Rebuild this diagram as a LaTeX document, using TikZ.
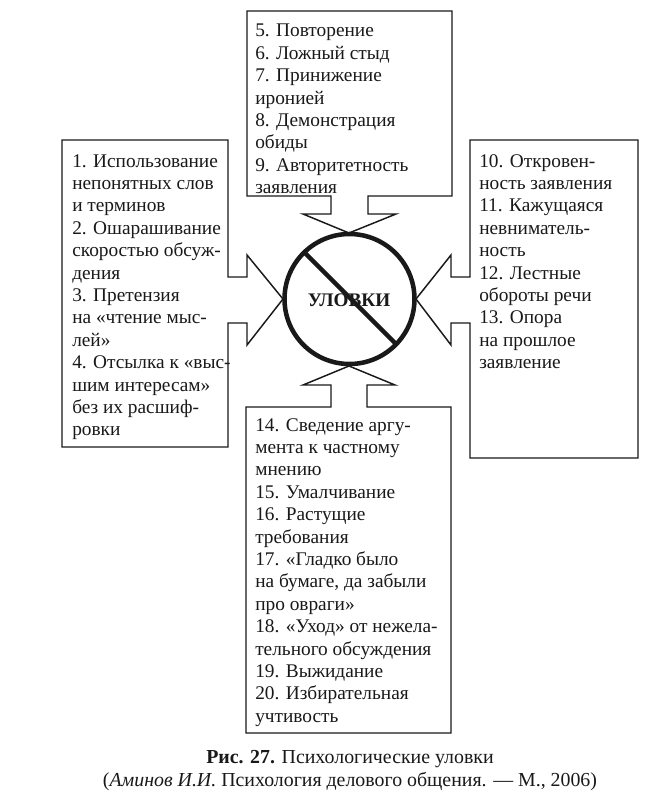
\documentclass[tikz,border=0pt]{standalone}
\usepackage{fontspec}
\setmainfont{Liberation Serif}
\tikzset{
  px/.style={x=0.75pt,y=-0.75pt},
  outline/.style={draw=black!90,line width=1.1pt,line join=miter},
  ring/.style={draw=black!90,line width=3.4pt},
  boxtext/.style={anchor=north west,align=left,inner sep=0pt,text=black!90,font=\fontsize{14.5pt}{16.8pt}\selectfont},
  captiontext/.style={align=center,inner sep=0pt,text=black!90,font=\fontsize{14.9pt}{17pt}\selectfont}
}
\begin{document}
\begin{tikzpicture}[px]
\useasboundingbox (0,0) rectangle (668,808);
\fill[white] (0,0) rectangle (668,808);
% top box
\draw[outline] (331,196) -- (247,196) -- (247,11) -- (452,11) -- (452,196) -- (368,196) -- (368,214) -- (396,214) -- (349,233) -- (303,214) -- (331,214) -- cycle;
% left box
\draw[outline] (228,277) -- (228,140) -- (62,140) -- (62,447) -- (228,447) -- (228,323) -- (247,323) -- (247,345) -- (283,299) -- (247,255) -- (247,277) -- cycle;
% right box
\draw[outline] (470,277) -- (470,140) -- (638,140) -- (638,458) -- (470,458) -- (470,323) -- (451,323) -- (451,345) -- (416,299) -- (451,255) -- (451,277) -- cycle;
% bottom box
\draw[outline] (331,407) -- (246,407) -- (246,733) -- (451,733) -- (451,407) -- (367,407) -- (367,385) -- (395,385) -- (349,366) -- (303,385) -- (331,385) -- cycle;
% circle
\node[circle,ring,fill=white,minimum size=97.5pt,inner sep=0pt] (c) at (349.5,299) {};
\draw[ring,line cap=butt] (305,253) -- (396,344);
\node[inner sep=0pt,font=\fontsize{14.4pt}{15pt}\selectfont\bfseries,text=black!90] (ulovki) at (349,300) {УЛОВКИ};
\node[boxtext] (t5) at (255,24) {5. Повторение\\6. Ложный стыд\\7. Принижение\\ иронией\\8. Демонстрация\\обиды\\9. Авторитетность\\заявления};
\node[boxtext] (t1) at (72,154) {1. Использование\\непонятных слов\\и терминов\\2. Ошарашивание\\скоростью обсуж-\\дения\\3. Претензия\\на «чтение мыс-\\лей»\\4. Отсылка к «выс-\\шим интересам»\\без их расшиф-\\ровки};
\node[boxtext] (t10) at (479,154) {10. Откровен-\\ность заявления\\11. Кажущаяся\\невниматель-\\ность\\12. Лестные\\обороты речи\\13. Опора\\на прошлое\\заявление};
\node[boxtext] (t14) at (255,418) {14. Сведение аргу-\\мента к частному\\мнению\\15. Умалчивание\\16. Растущие\\требования\\17. «Гладко было\\на бумаге, да забыли\\про овраги»\\18. «Уход» от нежела-\\тельного обсуждения\\19. Выжидание\\20. Избирательная\\учтивость};
\node[captiontext,anchor=north] (cap) at (350,750) {{\bfseries Рис. 27.} Психологические уловки\\({\itshape Аминов И.И.} Психология делового общения. — М., 2006)};
\end{tikzpicture}
\end{document}
